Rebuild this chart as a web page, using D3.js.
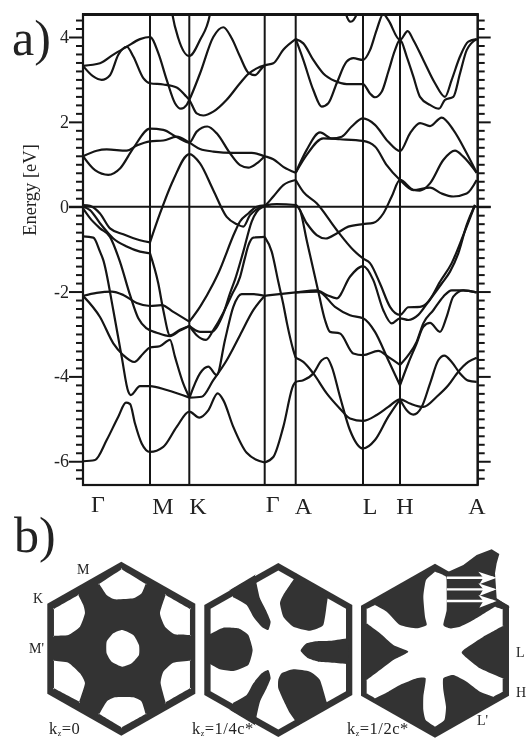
<!DOCTYPE html>
<html><head><meta charset="utf-8">
<script src="https://cdn.jsdelivr.net/npm/d3@7"></script>
<style>
html,body{margin:0;padding:0;background:#fff;overflow:hidden}
svg{display:block;filter:blur(0.3px)}
text{font-family:"Liberation Serif",serif;fill:#222}
</style></head><body>
<svg id="c" width="526" height="738"></svg>
<script>
// k-path positions and labels
const symK = [0, 67, 106.3, 181.7, 212.7, 280, 317, 394.7];
const symLabels = ["Γ", "M", "K", "Γ", "A", "L", "H", "A"];
const eLabels = [4, 2, 0, -2, -4, -6];
// band segments: [k, E(eV)]
const b01 = [[0,3.32],[17,3.38],[30,3.58],[43.7,3.77],[57,3.95],[67,4.0],[75.3,3.62],[83.7,2.99],[92,2.44],[98,2.31],[103.7,2.40],[106.3,2.52],[117,3.14],[130.3,4.0],[140.3,4.23],[148.7,3.97],[157,3.54],[165.3,3.16],[172,3.1],[178.7,3.26],[181.7,3.33],[190.3,3.38],[200.3,3.7],[212.7,3.95]];
const b02 = [[0,3.32],[10.3,3.07],[18.7,2.99],[27,3.1],[35.3,3.58],[43.7,3.77],[50.3,3.54],[60.3,3.03],[67,2.91],[80.3,2.88],[93.7,2.81],[102,2.63],[106.3,2.52],[113.7,2.2],[120.3,2.15],[130.3,2.24],[143.7,2.52],[157,2.91],[165.3,3.13],[173.7,3.26],[181.7,3.33]];
const b03 = [[212.7,3.95],[220.3,3.85],[230.3,3.46],[240.3,3.14],[252,2.96],[263.7,2.89],[280,2.89],[287,2.67],[292,2.58],[298.7,2.71],[305.3,3.18],[312,3.69],[317,3.93],[323.7,3.54],[330.3,3.07],[337,2.59],[347,2.4],[356,2.31],[362,2.52],[370.3,2.59],[377,3.14],[383.7,3.69],[393.7,3.95]];
const b04 = [[212.7,3.95],[220.3,3.46],[230.3,2.75],[238.7,2.36],[245.3,2.44],[253.7,2.91],[263.7,3.42],[270.3,3.5],[280,3.46],[287,3.69],[293.7,4.17],[300.3,4.54],[305.3,4.4],[317,3.93],[324.7,4.14],[330.3,3.93],[340.3,3.46],[352,2.91],[362,2.59],[368.7,2.99],[377,3.54],[385.3,3.89],[393.7,3.95]];
const b05 = [[87,4.9],[89.3,4.54],[95.3,3.97],[106.3,3.55],[117,3.93],[127,4.54],[129.5,4.9]];
const b06 = [[261,4.75],[263,4.54],[267.7,4.36],[273.7,4.54],[275.5,4.75]];
const b07 = [[0,1.19],[13.7,1.32],[23.7,1.35],[43.7,1.32],[53.7,1.44],[67,1.54],[80.3,1.56],[93.7,1.65],[106.3,1.51],[117,1.36],[130.3,1.30],[150.3,1.27],[168.7,1.27],[181.7,1.19],[190.3,1.12],[200.3,0.94],[212.7,0.80]];
const b08 = [[0,1.19],[12,0.86],[25.3,0.75],[37,0.9],[50.3,1.38],[67,1.84],[80.3,1.81],[93.7,1.64],[106.3,1.51],[113.7,1.77],[124.3,1.89],[133.7,1.73],[147,1.26],[157,0.98],[165.3,0.92],[173.7,1.02],[181.7,1.19]];
const b09 = [[67,-0.84],[77,-0.16],[90.3,0.63],[106.3,1.24],[117,1.02],[130.3,0.39],[143.7,-0.24],[153.7,-0.41],[160.3,-0.47],[167,-0.2],[175.3,-0.04],[181.7,0.02],[190.3,0.24],[200.3,0.51],[212.7,0.63]];
const b10 = [[0,0.04],[7,0.02],[17,-0.16],[27,-0.51],[40.3,-0.65],[57,-0.79],[67,-0.84]];
const b11 = [[212.7,0.80],[223.7,1.34],[237,1.75],[248.7,1.61],[258.7,1.65],[268.7,1.89],[280,2.08],[292,1.93],[305.3,1.53],[317,1.31],[327,1.73],[337,1.97],[347,1.9],[358.7,2.1],[370.3,1.81],[383.7,1.26],[393.7,0.80]];
const b12 = [[212.7,0.80],[223.7,1.22],[240.3,1.61],[257,1.59],[280,1.55],[292,1.42],[303.7,0.98],[317,0.63],[330.3,0.39],[347,0.45],[358.7,0.31],[370.3,0.24],[383.7,0.31],[393.7,0.63]];
const b13 = [[212.7,0.63],[220.3,0.35],[233.7,0.08],[253.7,-0.55],[270.3,-1.02],[280,-1.22],[287,-1.33],[297,-1.81],[307,-2.36],[317,-2.55],[325.3,-2.37],[337,-2.36],[345.3,-2.24],[357,-1.77],[368.7,-1.33],[380.3,-0.67],[392,0.04]];
const b14 = [[181.7,0.03],[193.7,0.06],[212.7,0.04],[223.7,-0.39],[233.7,-0.67],[242.7,-0.75],[253.7,-0.63],[265.3,-0.47],[280,-0.41],[290.3,-0.38],[300.3,-0.16],[308.7,0.24],[317,0.63],[330.3,0.4],[337,0.38],[347,0.55],[360.3,1.10],[372,1.32],[380.3,1.18],[393.7,0.80]];
const b15 = [[212.7,0.04],[217,-0.08],[223.7,-0.79],[235.3,-2.0],[242,-2.67],[247,-2.95],[257,-2.99],[270.3,-3.46],[280,-3.5],[295.3,-3.4],[305.3,-3.54],[317,-3.73]];
const b16 = [[317,-3.73],[325.3,-3.5],[333.7,-3.18],[340.3,-2.75],[350.3,-2.44],[360.3,-2.12],[368.7,-1.97],[380.3,-1.97],[393.7,-2.02]];
const b17 = [[181.7,-2.1],[212.7,-2.02],[233.7,-1.97],[243.7,-2.08],[253.7,-2.16],[267,-1.65],[280,-1.4],[290.3,-1.73],[300.3,-2.44],[308.7,-2.75],[317,-2.63],[325.3,-2.67],[335.3,-2.55],[345.3,-2.24],[358.7,-1.81],[367,-1.53],[375.3,-1.1],[383.7,-0.43],[392,0.04]];
const b18 = [[212.7,-2.02],[235.3,-2.0],[252,-2.36],[267,-2.56],[280,-2.63],[292,-2.95],[305.3,-3.62],[317,-4.21]];
const b19 = [[317,-4.21],[325.3,-3.69],[333.7,-3.22],[340.3,-2.83],[347,-2.74],[357,-2.95],[363.7,-2.59],[370.3,-2.12],[380.3,-1.97],[393.7,-2.02]];
const b20 = [[212.7,-3.56],[220.3,-3.66],[230.3,-3.93],[243.7,-4.4],[257,-4.76],[267,-4.99],[280,-5.05],[293.7,-4.91],[305.3,-4.72],[317,-4.54],[327,-4.64],[340.3,-4.72],[353.7,-4.48],[365.3,-4.21],[375.3,-3.89],[385.3,-3.66],[393.7,-3.56]];
const b21 = [[181.7,-6.03],[190.3,-5.9],[200.3,-5.19],[210.3,-4.21],[212.7,-4.13],[220.3,-4.09],[230.3,-3.93],[238.7,-3.62],[243.7,-3.56],[248.7,-3.77],[257,-4.48],[267,-5.27],[280,-5.7],[292,-5.5],[305.3,-4.95],[317,-4.54]];
const b22 = [[317,-4.54],[323.7,-4.8],[330.3,-4.9],[338.7,-4.72],[347,-4.17],[355.3,-3.62],[361.3,-3.51],[368.7,-3.66],[377,-3.93],[385.3,-4.1],[393.7,-4.13]];
const b23 = [[181.7,-0.71],[188.7,-1.06],[195.3,-1.77],[200.3,-2.3],[204,-2.75],[210.3,-3.38],[212.7,-3.56]];
const b24 = [[0,0],[7,-0.08],[17,-0.39],[30.3,-0.75],[43.7,-0.94],[57,-1.06],[67,-1.1]];
const b25 = [[67,-1.1],[75.3,-1.81],[80.3,-2.44],[87,-3.03],[97,-2.9],[106.3,-2.81]];
const b26 = [[0,-0.04],[7,-0.27],[17,-0.51],[27,-0.71],[37,-1.3],[47,-2.08],[55.3,-2.63],[63.7,-2.87],[73.7,-2.97],[87,-3.05],[97,-2.92],[106.3,-2.81]];
const b27 = [[0,-0.7],[10.3,-0.73],[17,-1.06],[20.3,-1.26],[30.3,-2.44],[38.7,-3.54],[45.3,-4.36],[47.7,-4.44],[57,-4.23],[67,-4.23],[83.7,-4.32],[106.5,-4.5]];
const b28 = [[0,-2.1],[17,-2.6],[30.3,-3.22],[40.3,-3.5],[51.3,-3.66],[60.3,-3.46],[67,-3.32],[76.7,-3.29],[87,-3.14],[92,-3.54],[100.3,-4.17],[106.5,-4.5]];
const b29 = [[0,-2.1],[13.7,-2.03],[28.7,-2.0],[40.3,-2.08],[53.7,-2.27],[67,-2.34],[78.7,-2.32],[90.3,-2.48],[106.3,-2.71]];
const b30 = [[106.3,-2.71],[117,-2.36],[130.3,-1.81],[135.3,-1.57],[152,-0.59],[157,-0.35],[165.3,-0.16],[173.7,0],[181.7,0.03]];
const b31 = [[106.3,-2.81],[117,-2.95],[128.7,-2.95],[140.3,-2.52],[147,-2.04],[152,-1.72],[160.3,-1.06],[168.7,-0.35],[173.7,-0.12],[180.3,0],[181.7,0.02]];
const b32 = [[106.3,-2.81],[113.7,-3.03],[123,-3.14],[130.3,-2.91],[140.3,-2.5],[148.7,-2.08],[157,-1.66],[162,-1.2],[165.3,-0.92],[170.3,-0.73],[181.7,-0.71]];
const b33 = [[106.5,-4.5],[117,-3.93],[125.3,-3.77],[133.7,-3.97],[142,-3.14],[150.3,-2.36],[158.7,-2.06],[170.3,-2.06],[181.7,-2.1]];
const b34 = [[106.5,-4.5],[118.7,-4.48],[130.3,-4.09],[143.7,-3.62],[157,-3.03],[170.3,-2.44],[181.7,-2.1]];
const b35 = [[0,-6.0],[12,-5.97],[23.7,-5.5],[35.3,-4.95],[43,-4.62],[47,-4.65],[52,-5.11],[58.7,-5.58],[67,-5.78],[80.3,-5.66],[93.7,-5.19],[106.3,-4.83],[116.3,-4.97],[125.3,-4.8],[134.7,-4.4],[140.3,-4.56],[150.3,-5.19],[163.7,-5.8],[181.7,-6.03]];
const bands = [b01,b02,b03,b04,b05,b06,b07,b08,b09,b10,b11,b12,b13,b14,b15,b16,b17,b18,b19,b20,b21,b22,b23,b24,b25,b26,b27,b28,b29,b30,b31,b32,b33,b34,b35];

// Fermi-surface panels, Brillouin-zone units; a third entry marks a sharp corner
const hexZone = [[0,-261],[222,-135],[222,135],[0,261],[-222,135],[-222,-135]];
const holes0 = [
 [[3,-56],[36,-41],[53,-11],[53,19],[31,44],[3,54],[-29,39],[-44,14],[-44,-21],[-24,-46]],
 [[1,-238,1],[73,-194,1],[61,-166],[36,-151],[-19,-148],[-44,-161],[-66,-194,1]],
 [[133,-161,1],[206,-119,1],[206,-41,1],[161,-43],[131,-66],[116,-106]],
 [[133,161,1],[206,119,1],[206,36,1],[156,42],[126,69],[118,104]],
 [[1,236,1],[-66,196,1],[-44,159],[-19,146],[36,146],[61,159],[73,196,1]],
 [[-202,36,1],[-159,42],[-124,74],[-109,104],[-126,159,1],[-202,119,1]],
 [[-202,-119,1],[-129,-161,1],[-114,-131],[-109,-106],[-124,-66],[-159,-41],[-202,-39,1]]
];
const pockets14 = [
 [[-212,-48,1],[-205,-48],[-165,-67],[-120,-65],[-90,-45],[-77,0],[-90,45],[-135,63],[-175,58],[-205,42],[-212,42,1]],
 [[-135,-158,1],[-95,-135],[-75,-100],[-50,-70],[-30,-60],[-23,-85],[-35,-115],[-55,-155],[-65,-198],[-70,-225,1],[-145,-180,1]],
 [[-135,158,1],[-95,135],[-75,100],[-50,70],[-30,60],[-23,85],[-35,115],[-55,155],[-65,198],[-70,225,1],[-145,180,1]],
 [[55,-225,1],[15,-165],[5,-140],[15,-100],[45,-70],[95,-58],[135,-75],[147,-148],[152,-170,1]],
 [[0,90],[10,70],[45,58],[95,65],[125,90],[145,155],[152,170,1],[60,225,1],[35,190],[15,150],[0,115]],
 [[67,2],[85,-20],[120,-27],[160,-28],[207,-35],[212,-35,1],[212,42,1],[207,42],[165,38],[120,35],[90,25]]
];
const star12 = [[0,-237,1],[-27,-212],[-35,-162],[-30,-102],[-25,-77],[-55,-67],[-105,-77],[-145,-117],[-180,-137,1],[-205,-125,1],[-205,-82,1],[-165,-52],[-125,-17],[-80,3],[-125,28],[-165,58],[-205,88,1],[-205,128,1],[-180,143,1],[-140,123],[-105,103],[-55,83],[-28,83],[-35,138],[-35,178],[-28,208],[0,228,1],[28,208],[33,168],[25,118],[25,83],[55,73],[95,93],[135,123],[175,138,1],[203,123,1],[203,83,1],[135,53],[80,6],[115,-22],[145,-42],[203,-74,1],[203,-124,1],[180,-132,1],[115,-92],[75,-72],[45,-67],[25,-77],[35,-122],[35,-182],[33,-222]];
const flare12 = [[25,-230],[85,-257],[125,-287],[170,-304],[193,-290],[185,-262],[180,-232],[185,-157],[225,-130],[60,-130]];
const arrowV = [-219, -184, -149];
const arrowU = [35, 185];
const arrowHead = [[-55,-18],[0,0],[-52,20],[-40,0]];

const svg = d3.select("#c");
const x = d3.scaleLinear().domain([0,394.7]).range([83,477.7]);
const y = d3.scaleLinear().domain([0,4]).range([206.7,37]);
const yTop = y.invert(14.5), yBot = y.invert(485);
const ink = "#151515";

svg.append("defs").append("clipPath").attr("id","fr").append("rect")
  .attr("x",x(0)).attr("y",y(yTop)).attr("width",x(394.7)-x(0)).attr("height",y(yBot)-y(yTop));

const minor = d3.range(-32,23).map(i=>i/5).filter(v=>!eLabels.includes(v));
function ax(gen, size, vals, tx){
  const g = svg.append("g").attr("transform",`translate(${tx},0)`)
    .call(gen(y).tickValues(vals).tickSize(size).tickFormat(""));
  g.select(".domain").remove();
  g.selectAll("line").attr("stroke",ink).attr("stroke-width",2);
  return g;
}
ax(d3.axisLeft,7,minor,x(0)); ax(d3.axisRight,7,minor,x(394.7));
ax(d3.axisLeft,14,eLabels,x(0)); ax(d3.axisRight,13,eLabels,x(394.7));
svg.append("g").selectAll("text").data(eLabels).join("text")
  .attr("x",x(0)-14).attr("y",d=>y(d)+6).attr("text-anchor","end")
  .attr("font-size",18).attr("fill","#333").text(d=>d);

svg.append("g").selectAll("line").data(symK).join("line")
  .attr("x1",d=>x(d)).attr("x2",d=>x(d)).attr("y1",y(yTop)).attr("y2",y(yBot))
  .attr("stroke",ink).attr("stroke-width",2);
svg.append("line").attr("x1",x(0)-14).attr("x2",x(394.7)+13).attr("y1",y(0)).attr("y2",y(0))
  .attr("stroke",ink).attr("stroke-width",2);

const bandLine = d3.line().x(d=>x(d[0])).y(d=>y(d[1])).curve(d3.curveMonotoneX);
svg.append("g").attr("clip-path","url(#fr)").selectAll("path").data(bands).join("path")
  .attr("d",bandLine).attr("fill","none").attr("stroke",ink).attr("stroke-width",2.2)
  .attr("stroke-linejoin","round");

svg.append("rect").attr("x",x(0)).attr("y",y(yTop)).attr("width",x(394.7)-x(0)).attr("height",y(yBot)-y(yTop))
  .attr("fill","none").attr("stroke",ink).attr("stroke-width",2.2);
svg.append("line").attr("x1",x(0)-1).attr("x2",x(394.7)+1).attr("y1",y(yTop)).attr("y2",y(yTop))
  .attr("stroke",ink).attr("stroke-width",2.8);

svg.append("text").attr("transform","translate(36,190) rotate(-90)").attr("text-anchor","middle")
  .attr("font-size",18.5).attr("fill","#333").text("Energy [eV]");
svg.append("text").attr("x",12).attr("y",55).attr("font-size",50).text("a)");
svg.append("text").attr("x",14).attr("y",552).attr("font-size",50).text("b)");
const labelX = [98,163,198,272.7,303.5,370,405,477];
const labelY = [511.5,514,514,511.5,514,514,514,514];
svg.append("g").selectAll("text").data(symLabels).join("text")
  .attr("x",(d,i)=>labelX[i]).attr("y",(d,i)=>labelY[i]).attr("text-anchor","middle")
  .attr("font-size",24).text(d=>d);

const dark = "#333";
const centers = [[121.3,648.7],[278.3,650],[435,650.7]];
function sharpen(pts){ return pts.flatMap(p=>p[2]?[p,p]:[p]); }
function panel(i){
  const [cx,cy] = centers[i];
  const sx = d3.scaleLinear().domain([-261,261]).range([cx-87,cx+87]);
  const sy = d3.scaleLinear().domain([-261,261]).range([cy-87,cy+87]);
  const b = d3.line().x(d=>sx(d[0])).y(d=>sy(d[1])).curve(d3.curveCardinalClosed.tension(0.5));
  return {
    sx, sy,
    poly: d3.line().x(d=>sx(d[0])).y(d=>sy(d[1])).curve(d3.curveLinearClosed),
    blob: pts=>b(sharpen(pts))
  };
}
const inner = hexZone.map(d=>[d[0]*0.915,d[1]*0.915]);
{ const p = panel(0), g = svg.append("g");
  g.append("path").attr("d",p.poly(hexZone)).attr("fill",dark);
  g.selectAll("path.h").data(holes0).join("path").attr("class","h").attr("d",p.blob).attr("fill","#fff");
}
{ const p = panel(1), g = svg.append("g");
  g.append("path").attr("d",p.poly(hexZone)).attr("fill",dark);
  g.append("path").attr("d",p.poly(inner)).attr("fill","#fff");
  g.selectAll("path.b").data(pockets14).join("path").attr("class","b").attr("d",p.blob).attr("fill",dark);
}
{ const p = panel(2), g = svg.append("g");
  g.append("path").attr("d",p.poly(hexZone)).attr("fill",dark);
  g.append("path").attr("d",p.poly(flare12)).attr("fill",dark);
  g.append("path").attr("d",p.blob(star12)).attr("fill","#fff");
  arrowV.forEach(v=>{
    g.append("line").attr("x1",p.sx(arrowU[0])).attr("x2",p.sx(arrowU[1]-10)).attr("y1",p.sy(v)).attr("y2",p.sy(v))
      .attr("stroke","#fff").attr("stroke-width",2.4);
    g.append("path").attr("d",p.poly(arrowHead.map(h=>[h[0]+arrowU[1],h[1]+v]))).attr("fill","#fff");
  });
}
const zoneLabels = [["M",77,574],["K",33,603],["M'",29,653],["L",516,657],["H",516,697],["L'",477,725]];
svg.append("g").selectAll("text").data(zoneLabels).join("text")
  .attr("x",d=>d[1]).attr("y",d=>d[2]).attr("font-size",14).text(d=>d[0]);
const kzLabels = [["=0",49,734],["=1/4c*",192,734],["=1/2c*",347,734]];
kzLabels.forEach(d=>{
  const t = svg.append("text").attr("x",d[1]).attr("y",d[2]).attr("font-size",16.5).attr("letter-spacing",0.5);
  t.append("tspan").text("k");
  t.append("tspan").attr("font-size",8).attr("dy",2).text("z");
  t.append("tspan").attr("dy",-2).text(d[0]);
});
</script>
</body></html>
